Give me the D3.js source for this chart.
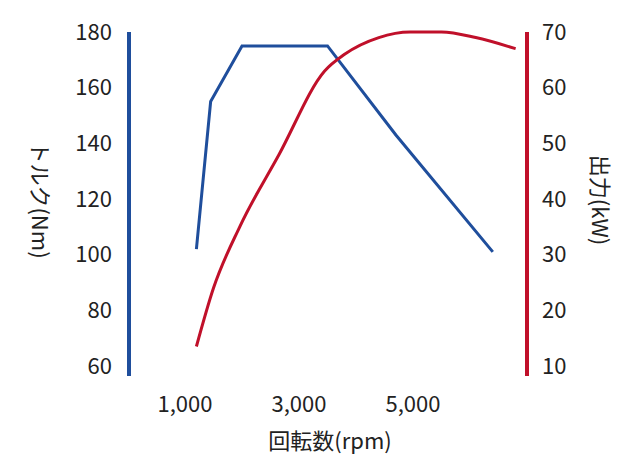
<!DOCTYPE html>
<html><head><meta charset="utf-8">
<script src="https://cdn.jsdelivr.net/npm/d3@7"></script>
<style>body{margin:0;background:#fff}text{font-family:"Noto Sans CJK JP","Noto Sans",sans-serif;fill:#222}</style>
</head><body><div id="chart"></div>
<script>
const width = 640, height = 474;
const torqueRpm = [1200, 1450, 2000, 3500, 4700, 6400];
const torqueNm = [102, 155, 175, 175, 143, 101];
const powerRpm = [1200, 1500, 1960, 2650, 3450, 3800, 4400, 4950, 5500, 6100, 6800];
const powerKw = [13.5, 24, 35, 48, 63, 66, 69, 70, 70, 69, 67];
const xTicks = [1000, 3000, 5000];
const leftTicks = [60, 80, 100, 120, 140, 160, 180];
const rightTicks = [10, 20, 30, 40, 50, 60, 70];

const svg = d3.select("#chart").append("svg").attr("width", width).attr("height", height);

const x = d3.scaleLinear().domain([0, 7000]).range([128, 527]);
const yL = d3.scaleLinear().domain([60, 180]).range([366, 32]);
const yR = d3.scaleLinear().domain([10, 70]).range([366, 32]);

// axes lines
svg.append("line").attr("x1", 129).attr("x2", 129).attr("y1", 32).attr("y2", 376)
  .attr("stroke", "#1f4e9c").attr("stroke-width", 4);
svg.append("line").attr("x1", 527).attr("x2", 527).attr("y1", 32).attr("y2", 376)
  .attr("stroke", "#c0102a").attr("stroke-width", 4);

svg.selectAll(".lt").data(leftTicks).join("text")
  .attr("x", 112).attr("y", d => yL(d)).attr("dy", "0.35em").attr("text-anchor", "end")
  .attr("font-size", 22).text(d => d);
svg.selectAll(".rt").data(rightTicks).join("text")
  .attr("x", 542).attr("y", d => yR(d)).attr("dy", "0.35em")
  .attr("font-size", 22).text(d => d);
svg.selectAll(".xt").data(xTicks).join("text")
  .attr("x", d => x(d)).attr("y", 412).attr("text-anchor", "middle")
  .attr("font-size", 22).text(d => d3.format(",")(d));

svg.append("text").attr("transform", "translate(32,200) rotate(90)")
  .attr("text-anchor", "middle").attr("font-size", 22).text("トルク(Nm)");
svg.append("text").attr("transform", "translate(592,200) rotate(90)")
  .attr("text-anchor", "middle").attr("font-size", 22).text("出力(kW)");
svg.append("text").attr("x", 330).attr("y", 449).attr("text-anchor", "middle")
  .attr("font-size", 22).text("回転数(rpm)");

const torque = torqueRpm.map((r, i) => [r, torqueNm[i]]);
const power = powerRpm.map((r, i) => [r, powerKw[i]]);

svg.append("path").datum(torque)
  .attr("d", d3.line().x(d => x(d[0])).y(d => yL(d[1])))
  .attr("fill", "none").attr("stroke", "#1f4e9c").attr("stroke-width", 3);
svg.append("path").datum(power)
  .attr("d", d3.line().x(d => x(d[0])).y(d => yR(d[1])).curve(d3.curveMonotoneX))
  .attr("fill", "none").attr("stroke", "#c0102a").attr("stroke-width", 3);
</script></body></html>
